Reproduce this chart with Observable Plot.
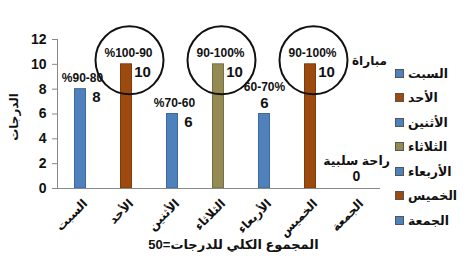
<!DOCTYPE html>
<html><head><meta charset="utf-8">
<script src="https://cdn.jsdelivr.net/npm/d3@7"></script>
<script src="https://cdn.jsdelivr.net/npm/@observablehq/plot@0.6"></script>
<style>
body{margin:0;background:#fff;font-family:"Liberation Sans",Arial,"DejaVu Sans",sans-serif;}
#wrap{position:relative;width:470px;height:272px;}
#legend{position:absolute;left:395px;top:61px;font-weight:bold;font-size:12.5px;color:#111;}
#legend .it{display:flex;align-items:center;height:24.5px;}
#legend .sw{width:7px;height:7px;margin-right:4px;border:1px solid #555;}
</style></head><body><div id="wrap"></div>
<script>
const days = ["السبت","الأحد","الأثنين","الثلاثاء","الأربعاء","الخميس","الجمعة"];
const values = [8,10,6,10,6,10,0];
const dayColors = ["#4F81BD","#9C4A0E","#4F81BD","#948A54","#4F81BD","#9C4A0E","#4F81BD"];
const ranges = ["%90-80","%100-90","%70-60","90-100%","60-70%","90-100%",""];
const circledDays = ["الأحد","الثلاثاء","الخميس"];
const yTicks = [0,2,4,6,8,10,12];
const restLabel = "راحة سلبية";
const matchLabel = "مباراة";
const yTitle = "الدرجات";
const xTitle = "المجموع الكلي للدرجات=50";

const data = days.map((d,i)=>({day:d, value:values[i], range:ranges[i]}));
const darker = c => d3.color(c).darker(0.6).formatHex();
const normal = data.filter(d => d.day !== "الأربعاء" && d.day !== "الجمعة");
const wed = data.filter(d => d.day === "الأربعاء");
const fri = data.filter(d => d.day === "الجمعة");
const circled = data.filter(d => circledDays.includes(d.day));

const plot = Plot.plot({
  width: 470, height: 272,
  marginLeft: 57, marginRight: 91, marginTop: 39, marginBottom: 84,
  style: {fontFamily: "'Liberation Sans', Arial, 'DejaVu Sans', sans-serif", fontWeight: "bold", color: "#111"},
  x: {domain: days, padding: 0, label: null},
  y: {domain: [0, 12], label: null},
  color: {domain: days, range: dayColors},
  marks: [
    Plot.barY(data, {x: "day", y: "value", fill: "day", stroke: d => darker(dayColors[days.indexOf(d.day)]), strokeWidth: 1, insetLeft: 17.5, insetRight: 17.5}),
    Plot.frame({anchor: "left", stroke: "#888"}),
    Plot.frame({anchor: "bottom", stroke: "#888"}),
    Plot.axisY({ticks: yTicks, tickSize: 5, tickPadding: 6, fontSize: 14, stroke: "#888"}),
    Plot.axisX({tickSize: 0, tickRotate: -45, tickPadding: 7, fontSize: 12, dx: 5, dy: 6}),
    Plot.dot(circled, {x: "day", y: "value", r: 34, dx: 3, dy: -4, stroke: "#111", strokeWidth: 2, fill: "none"}),
    Plot.text(normal, {x: "day", y: "value", text: "range", dy: -11, dx: 2, fontSize: 12}),
    Plot.text(normal, {x: "day", y: "value", text: d => String(d.value), dy: 8, dx: 16, fontSize: 15}),
    Plot.text(wed, {x: "day", y: "value", text: "range", dy: -27, fontSize: 12}),
    Plot.text(wed, {x: "day", y: "value", text: d => String(d.value), dy: -11, fontSize: 15}),
    Plot.text(fri, {x: "day", y: "value", text: () => restLabel, dy: -28, fontSize: 12.5}),
    Plot.text(fri, {x: "day", y: "value", text: d => String(d.value), dy: -12, fontSize: 14}),
    Plot.text(fri, {x: "day", y: () => 10, text: () => matchLabel, dx: 13, dy: -3, fontSize: 12}),
    Plot.text([yTitle], {frameAnchor: "left", textAnchor: "middle", text: d => d, rotate: -90, dx: -43, dy: 3, fontSize: 12}),
    Plot.text([xTitle], {frameAnchor: "bottom", textAnchor: "middle", text: d => d, dx: 15, dy: 60, fontSize: 13})
  ]
});
const wrap = document.getElementById("wrap");
wrap.appendChild(plot);
const color = plot.scale("color");
const lg = document.createElement("div");
lg.id = "legend";
color.domain.forEach((d,i) => {
  const it = document.createElement("div");
  it.className = "it";
  const sw = document.createElement("span");
  sw.className = "sw";
  sw.style.background = color.range[i];
  const tx = document.createElement("span");
  tx.textContent = d;
  it.appendChild(sw); it.appendChild(tx);
  lg.appendChild(it);
});
wrap.appendChild(lg);
</script></body></html>
